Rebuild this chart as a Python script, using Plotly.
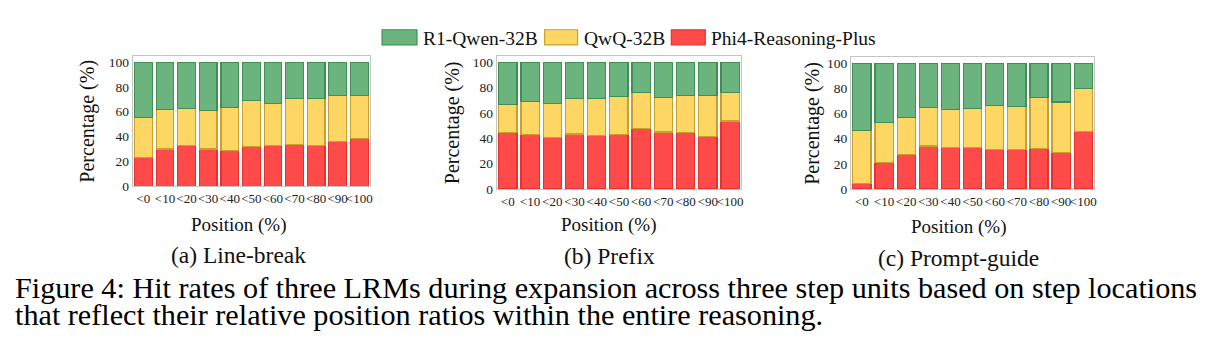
import plotly.graph_objects as go

W, H = 1219, 354
categories = ["<0", "<10", "<20", "<30", "<40", "<50", "<60", "<70", "<80", "<90", "<100"]

# Panel (a) Line-break: values per model (stacked, sum = 100)
a_phi = [23.3, 29.9, 33.0, 29.9, 28.8, 32.3, 32.8, 33.6, 33.0, 35.7, 38.4]
a_qwq = [32.3, 32.0, 29.7, 30.9, 34.7, 36.7, 33.6, 36.8, 37.6, 37.3, 34.9]
a_r1 = [44.4, 38.1, 37.3, 39.2, 36.5, 31.0, 33.6, 29.6, 29.4, 27.0, 26.7]

# Panel (b) Prefix
b_phi = [44.7, 43.2, 40.9, 43.4, 42.4, 43.2, 47.8, 45.0, 44.7, 41.6, 53.7]
b_qwq = [22.1, 25.7, 26.5, 28.3, 29.3, 29.8, 28.3, 27.5, 29.1, 32.2, 22.6]
b_r1 = [33.2, 31.1, 32.6, 28.3, 28.3, 27.0, 23.9, 27.5, 26.2, 26.2, 23.7]

# Panel (c) Prompt-guide
c_phi = [4.4, 21.1, 27.2, 34.2, 33.2, 33.2, 31.6, 31.6, 32.4, 29.0, 45.8]
c_qwq = [42.4, 32.1, 29.6, 30.6, 30.0, 30.6, 34.5, 34.2, 40.6, 40.2, 34.2]
c_r1 = [53.2, 46.8, 43.2, 35.2, 36.8, 36.2, 33.9, 34.2, 27.0, 30.8, 20.0]

models = ["R1-Qwen-32B", "QwQ-32B", "Phi4-Reasoning-Plus"]
y_ticks = [0, 20, 40, 60, 80, 100]
fills = {"R1-Qwen-32B": "#6cb47d", "QwQ-32B": "#fdd663", "Phi4-Reasoning-Plus": "#ff4a4a"}
lines = {"R1-Qwen-32B": "#3f8f55", "QwQ-32B": "#c9a02c", "Phi4-Reasoning-Plus": "#e83030"}

panels = [
    ("(a) Line-break", {"Phi4-Reasoning-Plus": a_phi, "QwQ-32B": a_qwq, "R1-Qwen-32B": a_r1}),
    ("(b) Prefix", {"Phi4-Reasoning-Plus": b_phi, "QwQ-32B": b_qwq, "R1-Qwen-32B": b_r1}),
    ("(c) Prompt-guide", {"Phi4-Reasoning-Plus": c_phi, "QwQ-32B": c_qwq, "R1-Qwen-32B": c_r1}),
]

# layout in pixels
boxes = [(133, 371, 56, 190), (498, 743, 56, 193), (853, 1097, 57, 193)]
ytitle_x = [88, 453, 815]
xtitle_pos = [(240, 230), (611, 230), (961, 232)]
cap_pos = [(239, 261), (611, 262), (961, 264)]

FONT = "Liberation Serif"
TXT = "#111111"


def px(x):
    return x / W


def py(y):
    return 1 - y / H


fig = go.Figure()
order = ["Phi4-Reasoning-Plus", "QwQ-32B", "R1-Qwen-32B"]
for i, (cap, data) in enumerate(panels):
    sfx = "" if i == 0 else str(i + 1)
    for m in order:
        fig.add_trace(go.Bar(
            x=categories, y=data[m], name=m,
            marker=dict(color=fills[m], line=dict(color=lines[m], width=1.2)),
            xaxis="x" + sfx, yaxis="y" + sfx, showlegend=False,
        ))
    x0, x1, yt, yb = boxes[i]
    fig.layout["xaxis" + sfx] = dict(
        domain=[px(x0), px(x1)], anchor="y" + sfx,
        showline=True, mirror=True, linecolor="#c4c4c4", linewidth=1,
        showgrid=False, ticks="", tickfont=dict(family=FONT, size=13, color="#222"),
        tickangle=0,
    )
    fig.layout["yaxis" + sfx] = dict(
        domain=[py(yb), py(yt)], anchor="x" + sfx,
        range=[0, 105.3], tickvals=y_ticks,
        showline=True, mirror=True, linecolor="#c4c4c4", linewidth=1,
        showgrid=False, ticks="", tickfont=dict(family=FONT, size=13.5, color="#222"),
        zeroline=False,
    )
    fig.add_annotation(x=px(ytitle_x[i]), y=py((yt + yb) / 2), xref="paper", yref="paper",
                       xanchor="center", yanchor="middle",
                       text="Percentage (%)", textangle=-90, showarrow=False,
                       font=dict(family=FONT, size=20, color=TXT))
    fig.add_annotation(x=px(xtitle_pos[i][0]), y=py(xtitle_pos[i][1]), xref="paper", yref="paper",
                       xanchor="center", yanchor="middle",
                       text="Position (%)", showarrow=False,
                       font=dict(family=FONT, size=19, color=TXT))
    fig.add_annotation(x=px(cap_pos[i][0]), y=py(cap_pos[i][1]), xref="paper", yref="paper",
                       xanchor="center", yanchor="middle",
                       text=cap, showarrow=False,
                       font=dict(family=FONT, size=23.5, color=TXT))

# legend (drawn as swatches + labels)
legend_items = [("R1-Qwen-32B", 383, 418), ("QwQ-32B", 546, 579), ("Phi4-Reasoning-Plus", 673, 707)]
for name, sx0, sx1 in legend_items:
    fig.add_shape(type="rect", xref="paper", yref="paper",
                  x0=px(sx0), x1=px(sx1), y0=py(45), y1=py(29.5),
                  fillcolor=fills[name], line=dict(color=lines[name], width=1.2))
    fig.add_annotation(x=px(sx1 + 4), y=py(38), xref="paper", yref="paper",
                       xanchor="left", yanchor="middle", text=name, showarrow=False,
                       font=dict(family=FONT, size=19.5, color=TXT))

fig.add_annotation(x=px(13), y=py(294), xref="paper", yref="paper", xanchor="left", yanchor="middle",
                   text="Figure 4: Hit rates of three LRMs during expansion across three step units based on step locations",
                   showarrow=False, font=dict(family=FONT, size=30.2, color="#000"))
fig.add_annotation(x=px(13), y=py(322), xref="paper", yref="paper", xanchor="left", yanchor="middle",
                   text="that reflect their relative position ratios within the entire reasoning.",
                   showarrow=False, font=dict(family=FONT, size=30.2, color="#000"))

fig.update_layout(
    width=W, height=H, margin=dict(l=0, r=0, t=0, b=0),
    barmode="stack", bargap=0.18,
    paper_bgcolor="white", plot_bgcolor="white",
    showlegend=False,
    font=dict(family=FONT),
)
fig.write_html("out.html")
